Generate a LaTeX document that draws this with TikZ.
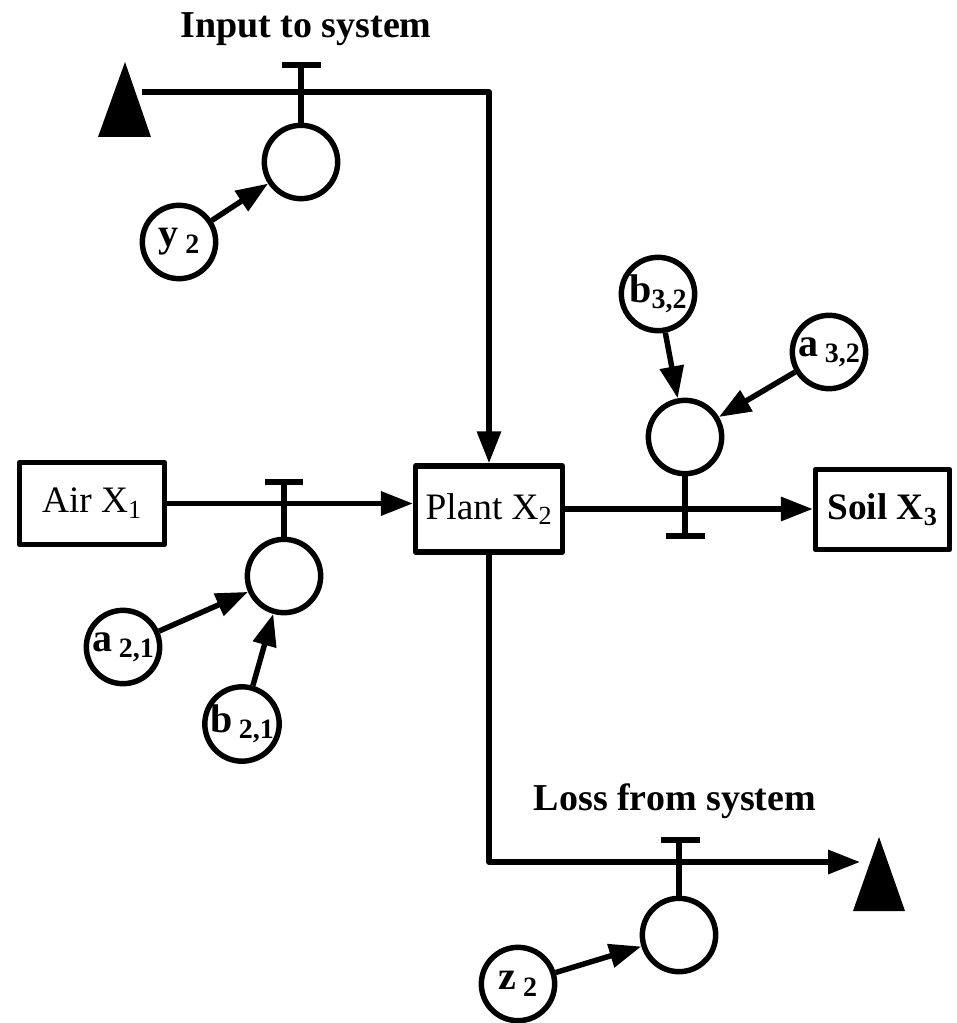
\documentclass[tikz,border=0pt]{standalone}
\usepackage{fontspec}
\setmainfont{Liberation Serif}
\usetikzlibrary{arrows.meta}
\newcommand{\vsub}[1]{\raisebox{-0.35ex}{\fontsize{21}{21}\selectfont #1}}
\begin{document}
\begin{tikzpicture}[x=0.75pt,y=-0.75pt, line width=4.1pt, line join=round,
 box/.style={draw, rectangle, inner sep=0, font=\fontsize{28}{32}\selectfont},
 ctrl/.style={draw, circle, minimum size=55pt, inner sep=0},
 var/.style={draw, circle, minimum size=55pt, inner sep=0, font=\fontsize{30}{32}\selectfont\bfseries},
 flow/.style={-{Triangle[length=24pt,width=17.5pt]}},
 lab/.style={font=\fontsize{28.5}{32}\selectfont\bfseries}]
\useasboundingbox (0,0) rectangle (956,1023);

% boxes
\node[box, minimum width=108.75pt, minimum height=61.5pt] (air) at (92,503.5) {Air X\textsubscript{1}};
\node[box, minimum width=110pt, minimum height=64.5pt] (plant) at (489,509) {Plant X\textsubscript{2}};
\node[box, minimum width=100.5pt, minimum height=60pt, font=\fontsize{28}{32}\selectfont\bfseries] (soil) at (882.5,509.5) {Soil X\textsubscript{3}};

% control circles
\node[ctrl] (c1) at (301,162) {};
\node[ctrl] (c2) at (284,576) {};
\node[ctrl] (c3) at (685,437) {};
\node[ctrl] (c4) at (679,935) {};

% variable circles
\node[var] (y2) at (179,242) {y\,\vsub{2}};
\node[var] (b32) at (658,294) {b\vsub{3,2}};
\node[var] (a32) at (829,352) {a\,\vsub{3,2}};
\node[var] (a21) at (123,647) {a\,\vsub{2,1}};
\node[var] (b21) at (242,724) {b\,\vsub{2,1}};
\node[var] (z2) at (518,984) {z\,\vsub{2}};

% labels
\node[lab, anchor=base] (inlab) at (306,38) {Input to system};
\node[lab, anchor=base] (losslab) at (675,810) {Loss from system};

% input flow
\coordinate (inL) at (142,92);
\coordinate (inC) at (489,92);
\fill (98,137) -- (125,62) -- (151,137) -- cycle;
\draw[flow] (inL) -- (inC) -- (plant.north);

% main flows
\draw[flow] (air.east) -- (air.east -| plant.west);
\draw[flow] (plant.east) -- (plant.east -| soil.west);

% loss flow
\coordinate (lossC) at (489,862);
\coordinate (lossE) at (860,862);
\draw[flow] (plant.south) -- (lossC) -- (lossE);
\fill (853,911) -- (879,837) -- (905,911) -- cycle;

% T-bars (valves)
\coordinate (t1) at (301,65);
\draw (c1.north) -- (t1);
\draw (282,65) -- (321,65);
\coordinate (t2) at (284,482);
\draw (c2.north) -- (t2);
\draw (265,482) -- (303,482);
\coordinate (t3) at (685,536);
\draw (c3.south) -- (t3);
\draw (666,536) -- (705,536);
\coordinate (t4) at (679,840);
\draw (c4.north) -- (t4);
\draw (661,840) -- (700,840);

% influence arrows
\draw[flow] (y2) -- (c1);
\draw[flow] (b32) -- (c3);
\draw[flow] (a32) -- (c3);
\draw[flow] (a21) -- (c2);
\draw[flow] (b21) -- (c2);
\draw[flow] (z2) -- (c4);
\end{tikzpicture}
\end{document}
